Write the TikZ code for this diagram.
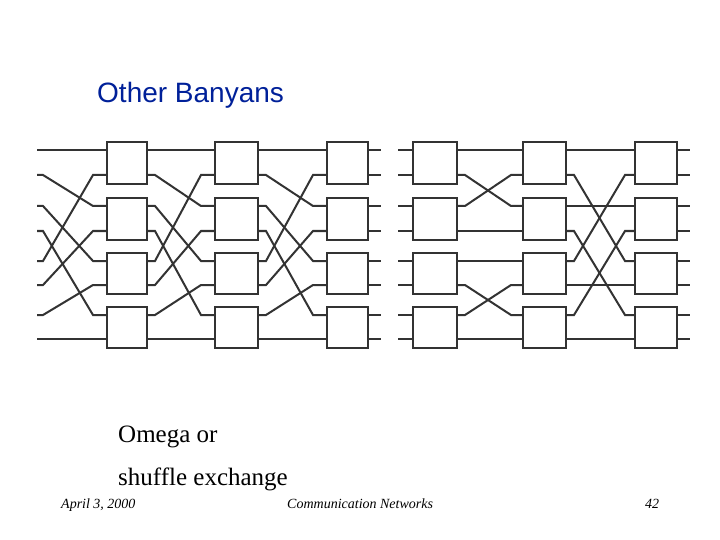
\documentclass[tikz,border=0pt]{standalone}
\usepackage{fontspec}
\setmainfont{Liberation Serif}
\newfontfamily\sansf{Liberation Sans}
\usetikzlibrary{calc}
\begin{document}
\begin{tikzpicture}[x=1pt,y=-1pt,
  sw/.style={draw=black!80,line width=2.2pt,inner sep=0pt},
  wire/.style={draw=black!80,line width=2pt}]
\useasboundingbox (0,0) rectangle (720,540);
\def\ylist{150,175,206,231,261,285,315,339}
% boxes
\foreach \net/\xa/\xb/\xc/\xd/\xe/\xf in {L/107/147/215/258/327/368, R/413/457/523/566/635/677}{
 \foreach \s/\xl/\xr in {1/\xa/\xb,2/\xc/\xd,3/\xe/\xf}{
  \foreach \j/\t/\b in {0/142/184,1/198/240,2/253/294,3/307/348}{
   \node[sw] (\net\s b\j) at ({(\xl+\xr)/2},{(\t+\b)/2}) [minimum width={(\xr-\xl)*1pt},minimum height={(\b-\t)*1pt}] {};
  }
  \foreach \y [count=\k from 0] in \ylist {
   \coordinate (\net\s i\k) at (\xl,\y);
   \coordinate (\net\s o\k) at (\xr,\y);
  }
 }
}
\foreach \y [count=\k from 0] in \ylist {
 \coordinate (Lsrc\k) at (37,\y);
 \coordinate (Ldst\k) at (381,\y);
 \coordinate (Rsrc\k) at (398,\y);
 \coordinate (Rdst\k) at (690,\y);
}
% left network: perfect shuffle
\foreach \k/\t in {0/0,1/2,2/4,3/6,4/1,5/3,6/5,7/7}{
 \draw[wire] (Lsrc\k) -- ++(6,0) -- ($(L1i\t)+(-14,0)$) -- (L1i\t);
 \draw[wire] (L1o\k) -- ++(8,0) -- ($(L2i\t)+(-14,0)$) -- (L2i\t);
 \draw[wire] (L2o\k) -- ++(8,0) -- ($(L3i\t)+(-14,0)$) -- (L3i\t);
 \draw[wire] (L3o\k) -- (Ldst\k);
}
% right network
\foreach \k in {0,...,7}{
 \draw[wire] (Rsrc\k) -- (R1i\k);
 \draw[wire] (R3o\k) -- (Rdst\k);
}
\foreach \k/\t in {0/0,1/2,2/1,3/3,4/4,5/6,6/5,7/7}{
 \draw[wire] (R1o\k) -- ++(8,0) -- ($(R2i\t)+(-12,0)$) -- (R2i\t);
}
\foreach \k/\t in {0/0,1/4,2/2,3/6,4/1,5/5,6/3,7/7}{
 \draw[wire] (R2o\k) -- ++(8,0) -- ($(R3i\t)+(-10,0)$) -- (R3i\t);
}
% texts
\node[anchor=base west,inner sep=0pt,font=\sansf\fontsize{28}{32}\selectfont,text={rgb,255:red,0;green,32;blue,153}] (title) at (97,103) {Other Banyans};
\node[anchor=base west,inner sep=0pt,font=\fontsize{25}{28}\selectfont] (om) at (118,442) {Omega or};
\node[anchor=base west,inner sep=0pt,font=\fontsize{25}{28}\selectfont] (sh) at (118,485) {shuffle exchange};
\node[anchor=base west,inner sep=0pt,font=\itshape\fontsize{14}{16}\selectfont] (d) at (61,508) {April 3, 2000};
\node[anchor=base west,inner sep=0pt,font=\itshape\fontsize{14}{16}\selectfont] (c) at (287,508) {Communication Networks};
\node[anchor=base west,inner sep=0pt,font=\itshape\fontsize{14}{16}\selectfont] (n) at (645,508) {42};
\end{tikzpicture}
\end{document}
